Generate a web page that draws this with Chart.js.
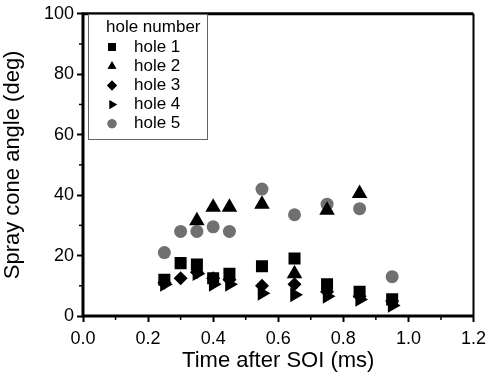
<!DOCTYPE html>
<html><head><meta charset="utf-8">
<script src="https://cdn.jsdelivr.net/npm/chart.js@4/dist/chart.umd.min.js"></script>
<style>html,body{margin:0;padding:0;background:#fff}#wrap{width:492px;height:378px}</style>
</head><body><div id="wrap"><canvas id="c" width="492" height="378"></canvas></div>
<script>
const times = [0.25, 0.30, 0.35, 0.40, 0.45, 0.55, 0.65, 0.75, 0.85, 0.95];
const hole1 = [12, 17.5, 17, 12.5, 14, 16.5, 19, 10.5, 8, 5.5];
const hole2 = [null, null, 31.5, 36, 36, 37, 14, 35, 40.5, null];
const hole3 = [11, 12.5, 14.5, 12.5, 12, 10, 10.5, 8, 6.5, 5];
const hole4 = [10.5, null, 14, 10.5, 10.5, 7.5, 7, 6.5, 5.5, 3.5];
const hole5 = [21, 28, 28, 29.5, 28, 42, 33.5, 37, 35.5, 13];
const seriesNames = ['hole 1', 'hole 2', 'hole 3', 'hole 4', 'hole 5'];
const legendTitle = 'hole number';
const xTitle = 'Time after SOI (ms)';
const yTitle = 'Spray cone angle (deg)';

const FONT = '"Liberation Sans", Arial, sans-serif';
const styles = [
  {pointStyle:'rect', radius:8.5, rotation:0, color:'#000', lr:5.5},
  {pointStyle:'triangle', radius:9, rotation:0, color:'#000', lr:5},
  {pointStyle:'rectRot', radius:7, rotation:0, color:'#000', lr:5},
  {pointStyle:'triangle', radius:8.5, rotation:90, color:'#000', lr:5},
  {pointStyle:'circle', radius:6.5, rotation:0, color:'#707070', lr:4.5}
];
const allSeries = [hole1, hole2, hole3, hole4, hole5];
const datasets = allSeries.map((arr, i) => ({
  label: seriesNames[i],
  data: times.map((t, j) => ({x: t, y: arr[j]})).filter(p => p.y !== null),
  pointStyle: styles[i].pointStyle,
  pointRadius: styles[i].radius,
  pointRotation: styles[i].rotation,
  backgroundColor: styles[i].color,
  borderColor: styles[i].color,
  borderWidth: 0,
  showLine: false
}));

const framePlugin = {
  id: 'frame',
  afterDraw(chart) {
    const {ctx, chartArea: a, scales} = chart;
    ctx.save();
    ctx.strokeStyle = '#000'; ctx.lineWidth = 1.5;
    for (let v = 0.1; v < 1.2; v += 0.2) {
      const px = scales.x.getPixelForValue(v);
      ctx.beginPath(); ctx.moveTo(px, a.bottom); ctx.lineTo(px, a.bottom + 4); ctx.stroke();
    }
    for (let v = 10; v < 100; v += 20) {
      const py = scales.y.getPixelForValue(v);
      ctx.beginPath(); ctx.moveTo(a.left, py); ctx.lineTo(a.left - 4, py); ctx.stroke();
    }
    ctx.lineWidth = 3;
    ctx.beginPath();
    ctx.moveTo(a.right, a.bottom); ctx.lineTo(a.left, a.bottom); ctx.lineTo(a.left, a.top); ctx.lineTo(a.right, a.top);
    ctx.stroke();
    ctx.lineWidth = 2;
    ctx.beginPath(); ctx.moveTo(a.right, a.top); ctx.lineTo(a.right, a.bottom); ctx.stroke();
    // legend
    const lx = 88, ly = 14, lw = 119, lh = 125;
    ctx.fillStyle = '#fff';
    ctx.fillRect(lx, ly, lw, lh);
    ctx.strokeStyle = '#666'; ctx.lineWidth = 1;
    ctx.strokeRect(lx + 0.5, ly + 0.5, lw, lh);
    ctx.fillStyle = '#000';
    ctx.font = '17px ' + FONT;
    ctx.textBaseline = 'middle';
    ctx.fillText(legendTitle, 106, 27);
    seriesNames.forEach((name, i) => {
      const y = 47 + i * 19.2;
      const s = styles[i];
      ctx.fillStyle = s.color;
      Chart.helpers.drawPoint(ctx, {pointStyle: s.pointStyle, radius: s.lr, rotation: s.rotation, borderWidth: 0}, 112, y);
      ctx.fill();
      ctx.fillStyle = '#000';
      ctx.fillText(name, 134, y);
    });
    ctx.restore();
  }
};

new Chart(document.getElementById('c'), {
  type: 'scatter',
  data: {datasets},
  options: {
    responsive: false,
    animation: false,
    layout: {padding: {top: 12, right: 17, left: 0, bottom: 0}},
    plugins: {legend: {display: false}, tooltip: {enabled: false}},
    scales: {
      x: {
        type: 'linear', min: 0, max: 1.2,
        border: {display: false},
        grid: {drawOnChartArea: false, tickLength: 6, tickWidth: 2, color: '#000'},
        ticks: {stepSize: 0.2, color: '#000', font: {family: FONT, size: 18}, padding: 6,
          callback: v => v.toFixed(1)},
        title: {display: true, text: xTitle, color: '#000', font: {family: FONT, size: 22}, padding: {top: 0}},
        afterFit(s) { s.height = 62; }
      },
      y: {
        type: 'linear', min: 0, max: 100,
        border: {display: false},
        grid: {drawOnChartArea: false, tickLength: 6, tickWidth: 2, color: '#000'},
        ticks: {stepSize: 20, color: '#000', font: {family: FONT, size: 18}, padding: 3},
        title: {display: true, text: yTitle, color: '#000', font: {family: FONT, size: 22}, padding: {top: 0, bottom: 2}},
        afterFit(s) { s.width = 83; }
      }
    }
  },
  plugins: [framePlugin]
});
</script>
</body></html>
